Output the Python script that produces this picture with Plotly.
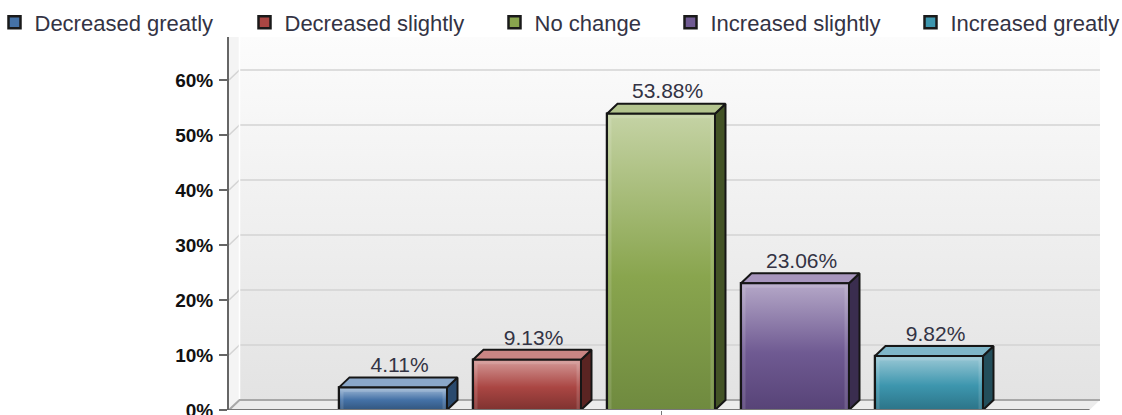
import plotly.graph_objects as go

categories = ["Decreased greatly", "Decreased slightly", "No change", "Increased slightly", "Increased greatly"]
values = [4.11, 9.13, 53.88, 23.06, 9.82]
labels = ["4.11%", "9.13%", "53.88%", "23.06%", "9.82%"]
y_ticks = [0, 10, 20, 30, 40, 50, 60]
y_tick_labels = ["0%", "10%", "20%", "30%", "40%", "50%", "60%"]

base = ["#4572a7", "#aa4643", "#89a54e", "#6f5a92", "#3d96ae"]
light = ["#a3bcd8", "#d49a98", "#c5d3a5", "#b5a8c8", "#9cc9d6"]
dark = ["#32567f", "#7f3230", "#6f8a3f", "#574377", "#2c7488"]
top_c = ["#8aa7c9", "#c98583", "#b3c48e", "#a795bd", "#7fb6c8"]
side = ["#2a4a6e", "#5a2422", "#435326", "#3a2d4f", "#234e5b"]
legend_text_left = [37, 287, 537, 713, 953]

W, H = 1122, 415
L, R, T, B = 229, 1100, 37, 410
PX_X, PX_Y = 134.0, 5.5
x0, x1 = (L - 393) / PX_X, (R - 393) / PX_X
y0, y1 = 0, (B - T) / PX_Y
dx, dy = 10.5 / PX_X, 10 / PX_Y
bw = 108 / PX_X

fig = go.Figure()

def poly(xs, ys, axes=("x", "y"), **kw):
    fig.add_trace(go.Scatter(x=xs, y=ys, xaxis=axes[0], yaxis=axes[1], mode="lines",
                             showlegend=False, hoverinfo="skip", cliponaxis=False, **kw))

# walls (base subplot)
poly([x0 + dx, x1, x1, x0 + dx, x0 + dx], [dy, dy, y1, y1, dy], fill="toself", line=dict(width=0, color="#eee"),
     fillgradient=dict(type="vertical", colorscale=[[0, "#e3e3e3"], [1, "#fcfcfc"]]))
poly([x0, x0 + dx, x0 + dx, x0, x0], [0, dy, y1, y1, 0], fill="toself", fillcolor="#f4f4f4", line=dict(width=0, color="#eee"))
poly([x0, x0 + dx, x1, x1 - dx, x0], [0, dy, dy, 0, 0], fill="toself", fillcolor="#ececec", line=dict(width=0, color="#eee"))
for t in y_ticks[1:]:
    poly([x0, x0 + dx, x1], [t, t + dy, t + dy], line=dict(color="#d4d4d4", width=1.5))
poly([x0 + dx, x0 + dx], [dy, y1], line=dict(color="#ffffff", width=1.5))
poly([x0, x0 + dx, x1], [0, dy, dy], line=dict(color="#a8a8a8", width=2))

# bars (overlay subplot)
legend_ids = ["legend", "legend2", "legend3", "legend4", "legend5"]
for i, (c, v) in enumerate(zip(categories, values)):
    fig.add_trace(go.Bar(x=[i], y=[v], name=c, width=bw, xaxis="x2", yaxis="y2", hoverinfo="skip",
                         legend=legend_ids[i],
                         marker=dict(color=base[i], line=dict(color="#1a1a1a", width=2.5))))
inx, iny = 3 / PX_X, 3 / PX_Y
for i, v in enumerate(values):
    l, r = i - bw / 2, i + bw / 2
    poly([r, r + dx, r + dx, r, r], [0, dy, v + dy, v, 0], axes=("x2", "y2"), fill="toself", fillcolor=side[i],
         line=dict(color="#161616", width=2))
    poly([l, l + dx, r + dx, r, l], [v, v + dy, v + dy, v, v], axes=("x2", "y2"), fill="toself", fillcolor=top_c[i],
         line=dict(color="#161616", width=2))
    poly([l, r, r, l, l], [0, 0, v, v, 0], axes=("x2", "y2"), fill="toself",
         line=dict(color="#161616", width=2),
         fillgradient=dict(type="vertical", colorscale=[[0, dark[i]], [0.45, base[i]], [1, light[i]]]))
    poly([l + inx, l + inx, r - inx, r - inx], [0, v - iny, v - iny, 0], axes=("x2", "y2"),
         line=dict(color="rgba(255,255,255,0.13)", width=3))

poly([x0, x1 - dx], [0, 0], axes=("x2", "y2"), line=dict(color="#777777", width=2))

fig.add_trace(go.Scatter(x=[i + dx / 2 + 0.01 for i in range(5)], y=[v + dy for v in values], text=labels,
                         xaxis="x2", yaxis="y2", mode="text", textposition="top center", showlegend=False,
                         hoverinfo="skip", cliponaxis=False,
                         textfont=dict(family="Liberation Sans", size=21, color="#333344")))

axis_common = dict(showgrid=False, zeroline=False)
legends = {}
for lid, left in zip(legend_ids, legend_text_left):
    legends[lid] = dict(orientation="h", x=(left - 42.5 - L) / (R - L), xanchor="left",
                        y=(B - 1.4) / (B - T), yanchor="top",
                        font=dict(family="Liberation Sans", size=22, color="#333344"),
                        bgcolor="rgba(0,0,0,0)", itemclick=False, itemdoubleclick=False)
fig.update_layout(
    width=W, height=H, autosize=False,
    margin=dict(l=L, r=W - R, t=T, b=H - B, pad=0, autoexpand=False),
    paper_bgcolor="white", plot_bgcolor="white",
    barmode="overlay",
    xaxis=dict(range=[x0, x1], tickmode="array", tickvals=[2], ticktext=[""], ticks="outside", ticklen=5,
               tickcolor="#777777", showline=False, **axis_common),
    yaxis=dict(range=[y0, y1], tickmode="array", tickvals=y_ticks, ticktext=y_tick_labels, ticks="outside",
               ticklen=8, tickwidth=1.5, tickcolor="#666666", showline=True, linecolor="#666666", linewidth=2,
               ticklabelstandoff=2, ticklabeloverflow="allow",
               tickfont=dict(family="Liberation Sans", size=19, color="#111111", weight="bold"), **axis_common),
    xaxis2=dict(range=[x0, x1], overlaying="x", visible=False, matches="x"),
    yaxis2=dict(range=[y0, y1], overlaying="y", visible=False, matches="y"),
    showlegend=True,
    **legends,
)
fig.write_html("out.html", config={"displayModeBar": False},
               post_script="document.body.style.margin='0';document.body.style.overflow='hidden';")
